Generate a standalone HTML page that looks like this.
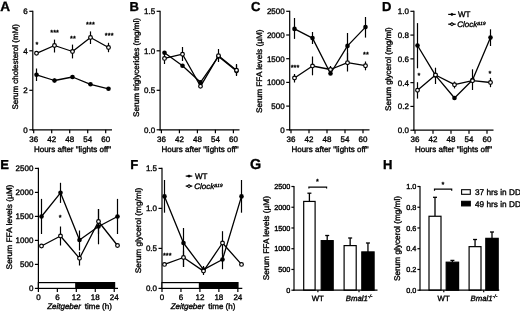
<!DOCTYPE html>
<html lang="en">
<head>
<meta charset="utf-8">
<title>Figure</title>
<style>
html,body{margin:0;padding:0;background:#fff;}
body{width:520px;height:311px;overflow:hidden;}
svg{display:block;filter:grayscale(1);}
svg text{font-family:"Liberation Sans",sans-serif;fill:#000;stroke:#000;stroke-width:0.35px;text-rendering:geometricPrecision;}
</style>
</head>
<body>
<svg width="520" height="311" viewBox="0 0 520 311">
<rect x="0" y="0" width="520" height="311" fill="#fff"/>
<text x="0.3" y="11.2" font-size="13.6" font-weight="bold" >A</text>
<text x="129.6" y="11.1" font-size="13" font-weight="bold" >B</text>
<text x="251" y="10.9" font-size="13" font-weight="bold" >C</text>
<text x="382" y="11.1" font-size="13" font-weight="bold" >D</text>
<text x="0.3" y="168.9" font-size="13" font-weight="bold" >E</text>
<text x="130.3" y="168.9" font-size="13" font-weight="bold" >F</text>
<text x="250" y="169.3" font-size="14.4" font-weight="bold" >G</text>
<text x="383" y="169.1" font-size="13" font-weight="bold" >H</text>
<line x1="32.8" y1="10.7" x2="32.8" y2="130.4" stroke="#000" stroke-width="1.2" />
<line x1="32.2" y1="129.8" x2="112" y2="129.8" stroke="#000" stroke-width="1.2" />
<line x1="29.3" y1="129.8" x2="32.8" y2="129.8" stroke="#000" stroke-width="1.2" />
<text x="27.8" y="132.76" font-size="8" text-anchor="end" >0</text>
<line x1="29.3" y1="90.3" x2="32.8" y2="90.3" stroke="#000" stroke-width="1.2" />
<text x="27.8" y="93.26" font-size="8" text-anchor="end" >2</text>
<line x1="29.3" y1="50.8" x2="32.8" y2="50.8" stroke="#000" stroke-width="1.2" />
<text x="27.8" y="53.76" font-size="8" text-anchor="end" >4</text>
<line x1="29.3" y1="11.3" x2="32.8" y2="11.3" stroke="#000" stroke-width="1.2" />
<text x="27.8" y="14.26" font-size="8" text-anchor="end" >6</text>
<line x1="33.7" y1="129.8" x2="33.7" y2="133.3" stroke="#000" stroke-width="1.2" />
<text x="33.7" y="141.5" font-size="8" text-anchor="middle" >36</text>
<line x1="51.7" y1="129.8" x2="51.7" y2="133.3" stroke="#000" stroke-width="1.2" />
<text x="51.7" y="141.5" font-size="8" text-anchor="middle" >42</text>
<line x1="69.7" y1="129.8" x2="69.7" y2="133.3" stroke="#000" stroke-width="1.2" />
<text x="69.7" y="141.5" font-size="8" text-anchor="middle" >48</text>
<line x1="87.7" y1="129.8" x2="87.7" y2="133.3" stroke="#000" stroke-width="1.2" />
<text x="87.7" y="141.5" font-size="8" text-anchor="middle" >54</text>
<line x1="105.7" y1="129.8" x2="105.7" y2="133.3" stroke="#000" stroke-width="1.2" />
<text x="105.7" y="141.5" font-size="8" text-anchor="middle" >60</text>
<text x="18.1" y="66.8" font-size="8" text-anchor="middle" textLength="85.4" lengthAdjust="spacingAndGlyphs" transform="rotate(-90 18.1 66.8)" >Serum cholesterol (mM)</text>
<text x="72.5" y="152" font-size="8" text-anchor="middle" >Hours after "lights off"</text>
<path d="M36.5 74.8 L54.5 80.5 L72.5 77 L90.5 84.3 L108.5 88.8" fill="none" stroke="#000" stroke-width="1.3" stroke-linejoin="round"/>
<line x1="36.5" y1="68.5" x2="36.5" y2="81" stroke="#000" stroke-width="1.2" />
<line x1="54.5" y1="78.5" x2="54.5" y2="82.5" stroke="#000" stroke-width="1.2" />
<circle cx="36.5" cy="74.8" r="2.3" fill="#000"/>
<circle cx="54.5" cy="80.5" r="2.3" fill="#000"/>
<circle cx="72.5" cy="77" r="2.3" fill="#000"/>
<circle cx="90.5" cy="84.3" r="2.3" fill="#000"/>
<circle cx="108.5" cy="88.8" r="2.3" fill="#000"/>
<path d="M36.5 53.3 L54.5 45.5 L72.5 51.5 L90.5 37.5 L108.5 47.5" fill="none" stroke="#000" stroke-width="1.3" stroke-linejoin="round"/>
<line x1="54.5" y1="39.6" x2="54.5" y2="52.5" stroke="#000" stroke-width="1.2" />
<line x1="72.5" y1="44.6" x2="72.5" y2="58.4" stroke="#000" stroke-width="1.2" />
<line x1="90.5" y1="31.4" x2="90.5" y2="44" stroke="#000" stroke-width="1.2" />
<line x1="108.5" y1="42.8" x2="108.5" y2="52.2" stroke="#000" stroke-width="1.2" />
<circle cx="36.5" cy="53.3" r="1.85" fill="#fff" stroke="#000" stroke-width="1.2"/>
<circle cx="54.5" cy="45.5" r="1.85" fill="#fff" stroke="#000" stroke-width="1.2"/>
<circle cx="72.5" cy="51.5" r="1.85" fill="#fff" stroke="#000" stroke-width="1.2"/>
<circle cx="90.5" cy="37.5" r="1.85" fill="#fff" stroke="#000" stroke-width="1.2"/>
<circle cx="108.5" cy="47.5" r="1.85" fill="#fff" stroke="#000" stroke-width="1.2"/>
<text x="37" y="46.63" font-size="7.3" text-anchor="middle" >*</text>
<text x="54.65" y="35.33" font-size="7.3" text-anchor="middle" letter-spacing="0.1">***</text>
<text x="73.05" y="40.83" font-size="7.3" text-anchor="middle" letter-spacing="0.1">**</text>
<text x="90.45" y="26.63" font-size="7.3" text-anchor="middle" letter-spacing="0.1">***</text>
<text x="109.25" y="37.93" font-size="7.3" text-anchor="middle" letter-spacing="0.1">***</text>
<line x1="160.1" y1="10.7" x2="160.1" y2="130.4" stroke="#000" stroke-width="1.2" />
<line x1="159.5" y1="129.8" x2="239.5" y2="129.8" stroke="#000" stroke-width="1.2" />
<line x1="156.6" y1="129.8" x2="160.1" y2="129.8" stroke="#000" stroke-width="1.2" />
<text x="155.1" y="132.76" font-size="8" text-anchor="end" >0.0</text>
<line x1="156.6" y1="90.3" x2="160.1" y2="90.3" stroke="#000" stroke-width="1.2" />
<text x="155.1" y="93.26" font-size="8" text-anchor="end" >0.5</text>
<line x1="156.6" y1="50.8" x2="160.1" y2="50.8" stroke="#000" stroke-width="1.2" />
<text x="155.1" y="53.76" font-size="8" text-anchor="end" >1.0</text>
<line x1="156.6" y1="11.3" x2="160.1" y2="11.3" stroke="#000" stroke-width="1.2" />
<text x="155.1" y="14.26" font-size="8" text-anchor="end" >1.5</text>
<line x1="161.4" y1="129.8" x2="161.4" y2="133.3" stroke="#000" stroke-width="1.2" />
<text x="161.4" y="141.5" font-size="8" text-anchor="middle" >36</text>
<line x1="179.4" y1="129.8" x2="179.4" y2="133.3" stroke="#000" stroke-width="1.2" />
<text x="179.4" y="141.5" font-size="8" text-anchor="middle" >42</text>
<line x1="197.4" y1="129.8" x2="197.4" y2="133.3" stroke="#000" stroke-width="1.2" />
<text x="197.4" y="141.5" font-size="8" text-anchor="middle" >48</text>
<line x1="215.4" y1="129.8" x2="215.4" y2="133.3" stroke="#000" stroke-width="1.2" />
<text x="215.4" y="141.5" font-size="8" text-anchor="middle" >54</text>
<line x1="233.4" y1="129.8" x2="233.4" y2="133.3" stroke="#000" stroke-width="1.2" />
<text x="233.4" y="141.5" font-size="8" text-anchor="middle" >60</text>
<text x="138.7" y="67.5" font-size="8" text-anchor="middle" textLength="98.9" lengthAdjust="spacingAndGlyphs" transform="rotate(-90 138.7 67.5)" >Serum triglycerides (mg/ml)</text>
<text x="200" y="152" font-size="8" text-anchor="middle" >Hours after "lights off"</text>
<path d="M164.5 52.7 L182.5 65.7 L200.5 82.3 L218.5 56.5 L236.5 71" fill="none" stroke="#000" stroke-width="1.3" stroke-linejoin="round"/>
<line x1="236.5" y1="65" x2="236.5" y2="75" stroke="#000" stroke-width="1.2" />
<circle cx="164.5" cy="52.7" r="2.3" fill="#000"/>
<circle cx="182.5" cy="65.7" r="2.3" fill="#000"/>
<circle cx="200.5" cy="82.3" r="2.3" fill="#000"/>
<circle cx="218.5" cy="56.5" r="2.3" fill="#000"/>
<circle cx="236.5" cy="71" r="2.3" fill="#000"/>
<path d="M164.5 58.4 L182.5 54.2 L200.5 86.3 L218.5 55.7 L236.5 70.3" fill="none" stroke="#000" stroke-width="1.3" stroke-linejoin="round"/>
<line x1="164.5" y1="53" x2="164.5" y2="64" stroke="#000" stroke-width="1.2" />
<line x1="182.5" y1="47" x2="182.5" y2="61" stroke="#000" stroke-width="1.2" />
<line x1="218.5" y1="49" x2="218.5" y2="62" stroke="#000" stroke-width="1.2" />
<line x1="236.5" y1="64" x2="236.5" y2="76" stroke="#000" stroke-width="1.2" />
<circle cx="164.5" cy="58.4" r="1.85" fill="#fff" stroke="#000" stroke-width="1.2"/>
<circle cx="182.5" cy="54.2" r="1.85" fill="#fff" stroke="#000" stroke-width="1.2"/>
<circle cx="200.5" cy="86.3" r="1.85" fill="#fff" stroke="#000" stroke-width="1.2"/>
<circle cx="218.5" cy="55.7" r="1.85" fill="#fff" stroke="#000" stroke-width="1.2"/>
<circle cx="236.5" cy="70.3" r="1.85" fill="#fff" stroke="#000" stroke-width="1.2"/>
<line x1="289.7" y1="10.7" x2="289.7" y2="130.4" stroke="#000" stroke-width="1.2" />
<line x1="289.1" y1="129.8" x2="369.5" y2="129.8" stroke="#000" stroke-width="1.2" />
<line x1="286.2" y1="129.8" x2="289.7" y2="129.8" stroke="#000" stroke-width="1.2" />
<text x="284.7" y="132.76" font-size="8" text-anchor="end" >0</text>
<line x1="286.2" y1="106.1" x2="289.7" y2="106.1" stroke="#000" stroke-width="1.2" />
<text x="284.7" y="109.06" font-size="8" text-anchor="end" >500</text>
<line x1="286.2" y1="82.4" x2="289.7" y2="82.4" stroke="#000" stroke-width="1.2" />
<text x="284.7" y="85.36" font-size="8" text-anchor="end" >1000</text>
<line x1="286.2" y1="58.7" x2="289.7" y2="58.7" stroke="#000" stroke-width="1.2" />
<text x="284.7" y="61.66" font-size="8" text-anchor="end" >1500</text>
<line x1="286.2" y1="35" x2="289.7" y2="35" stroke="#000" stroke-width="1.2" />
<text x="284.7" y="37.96" font-size="8" text-anchor="end" >2000</text>
<line x1="286.2" y1="11.3" x2="289.7" y2="11.3" stroke="#000" stroke-width="1.2" />
<text x="284.7" y="14.26" font-size="8" text-anchor="end" >2500</text>
<line x1="291" y1="129.8" x2="291" y2="133.3" stroke="#000" stroke-width="1.2" />
<text x="291" y="141.5" font-size="8" text-anchor="middle" >36</text>
<line x1="309" y1="129.8" x2="309" y2="133.3" stroke="#000" stroke-width="1.2" />
<text x="309" y="141.5" font-size="8" text-anchor="middle" >42</text>
<line x1="327" y1="129.8" x2="327" y2="133.3" stroke="#000" stroke-width="1.2" />
<text x="327" y="141.5" font-size="8" text-anchor="middle" >48</text>
<line x1="345" y1="129.8" x2="345" y2="133.3" stroke="#000" stroke-width="1.2" />
<text x="345" y="141.5" font-size="8" text-anchor="middle" >54</text>
<line x1="363" y1="129.8" x2="363" y2="133.3" stroke="#000" stroke-width="1.2" />
<text x="363" y="141.5" font-size="8" text-anchor="middle" >60</text>
<text x="261.8" y="71.3" font-size="8" text-anchor="middle" textLength="83.5" lengthAdjust="spacingAndGlyphs" transform="rotate(-90 261.8 71.3)" >Serum FFA levels (µM)</text>
<text x="330" y="152" font-size="8" text-anchor="middle" >Hours after "lights off"</text>
<path d="M294.5 28.9 L312.5 38.1 L330.5 73.5 L347.5 45.9 L365.5 27.1" fill="none" stroke="#000" stroke-width="1.3" stroke-linejoin="round"/>
<line x1="294.5" y1="18" x2="294.5" y2="38.9" stroke="#000" stroke-width="1.2" />
<line x1="312.5" y1="32" x2="312.5" y2="44" stroke="#000" stroke-width="1.2" />
<line x1="347.5" y1="33" x2="347.5" y2="60" stroke="#000" stroke-width="1.2" />
<line x1="365.5" y1="17" x2="365.5" y2="37.6" stroke="#000" stroke-width="1.2" />
<circle cx="294.5" cy="28.9" r="2.3" fill="#000"/>
<circle cx="312.5" cy="38.1" r="2.3" fill="#000"/>
<circle cx="330.5" cy="73.5" r="2.3" fill="#000"/>
<circle cx="347.5" cy="45.9" r="2.3" fill="#000"/>
<circle cx="365.5" cy="27.1" r="2.3" fill="#000"/>
<path d="M294.5 78 L312.5 66 L330.5 69.5 L347.5 62.7 L365.5 65.7" fill="none" stroke="#000" stroke-width="1.3" stroke-linejoin="round"/>
<line x1="294.5" y1="74" x2="294.5" y2="82.5" stroke="#000" stroke-width="1.2" />
<line x1="312.5" y1="56.5" x2="312.5" y2="75.3" stroke="#000" stroke-width="1.2" />
<line x1="330.5" y1="66" x2="330.5" y2="73" stroke="#000" stroke-width="1.2" />
<line x1="347.5" y1="52.7" x2="347.5" y2="71.5" stroke="#000" stroke-width="1.2" />
<line x1="365.5" y1="61.5" x2="365.5" y2="70.3" stroke="#000" stroke-width="1.2" />
<circle cx="294.5" cy="78" r="1.85" fill="#fff" stroke="#000" stroke-width="1.2"/>
<circle cx="312.5" cy="66" r="1.85" fill="#fff" stroke="#000" stroke-width="1.2"/>
<circle cx="330.5" cy="69.5" r="1.85" fill="#fff" stroke="#000" stroke-width="1.2"/>
<circle cx="347.5" cy="62.7" r="1.85" fill="#fff" stroke="#000" stroke-width="1.2"/>
<circle cx="365.5" cy="65.7" r="1.85" fill="#fff" stroke="#000" stroke-width="1.2"/>
<text x="295.05" y="69.93" font-size="7.3" text-anchor="middle" letter-spacing="0.1">***</text>
<text x="366.05" y="56.63" font-size="7.3" text-anchor="middle" letter-spacing="0.1">**</text>
<line x1="413.9" y1="10.7" x2="413.9" y2="130.8" stroke="#000" stroke-width="1.2" />
<line x1="413.3" y1="130.2" x2="493.5" y2="130.2" stroke="#000" stroke-width="1.2" />
<line x1="410.4" y1="130.2" x2="413.9" y2="130.2" stroke="#000" stroke-width="1.2" />
<text x="408.9" y="133.16" font-size="8" text-anchor="end" >0.0</text>
<line x1="410.4" y1="106.42" x2="413.9" y2="106.42" stroke="#000" stroke-width="1.2" />
<text x="408.9" y="109.38" font-size="8" text-anchor="end" >0.2</text>
<line x1="410.4" y1="82.64" x2="413.9" y2="82.64" stroke="#000" stroke-width="1.2" />
<text x="408.9" y="85.6" font-size="8" text-anchor="end" >0.4</text>
<line x1="410.4" y1="58.86" x2="413.9" y2="58.86" stroke="#000" stroke-width="1.2" />
<text x="408.9" y="61.82" font-size="8" text-anchor="end" >0.6</text>
<line x1="410.4" y1="35.08" x2="413.9" y2="35.08" stroke="#000" stroke-width="1.2" />
<text x="408.9" y="38.04" font-size="8" text-anchor="end" >0.8</text>
<line x1="410.4" y1="11.3" x2="413.9" y2="11.3" stroke="#000" stroke-width="1.2" />
<text x="408.9" y="14.26" font-size="8" text-anchor="end" >1.0</text>
<line x1="415" y1="130.2" x2="415" y2="133.7" stroke="#000" stroke-width="1.2" />
<text x="415" y="141.9" font-size="8" text-anchor="middle" >36</text>
<line x1="433" y1="130.2" x2="433" y2="133.7" stroke="#000" stroke-width="1.2" />
<text x="433" y="141.9" font-size="8" text-anchor="middle" >42</text>
<line x1="451" y1="130.2" x2="451" y2="133.7" stroke="#000" stroke-width="1.2" />
<text x="451" y="141.9" font-size="8" text-anchor="middle" >48</text>
<line x1="469" y1="130.2" x2="469" y2="133.7" stroke="#000" stroke-width="1.2" />
<text x="469" y="141.9" font-size="8" text-anchor="middle" >54</text>
<line x1="487" y1="130.2" x2="487" y2="133.7" stroke="#000" stroke-width="1.2" />
<text x="487" y="141.9" font-size="8" text-anchor="middle" >60</text>
<text x="391.2" y="69.1" font-size="8" text-anchor="middle" textLength="83.6" lengthAdjust="spacingAndGlyphs" transform="rotate(-90 391.2 69.1)" >Serum glycerol (mg/ml)</text>
<text x="453.5" y="152" font-size="8" text-anchor="middle" >Hours after "lights off"</text>
<path d="M417.5 45.5 L435.5 75.4 L454.5 98 L472.5 80 L490.5 37.6" fill="none" stroke="#000" stroke-width="1.3" stroke-linejoin="round"/>
<line x1="417.5" y1="23.1" x2="417.5" y2="68.3" stroke="#000" stroke-width="1.2" />
<line x1="490.5" y1="29.3" x2="490.5" y2="46" stroke="#000" stroke-width="1.2" />
<circle cx="417.5" cy="45.5" r="2.3" fill="#000"/>
<circle cx="435.5" cy="75.4" r="2.3" fill="#000"/>
<circle cx="454.5" cy="98" r="2.3" fill="#000"/>
<circle cx="472.5" cy="80" r="2.3" fill="#000"/>
<circle cx="490.5" cy="37.6" r="2.3" fill="#000"/>
<path d="M417.5 90.2 L435.5 75 L454.5 84.7 L472.5 80.7 L490.5 82.5" fill="none" stroke="#000" stroke-width="1.3" stroke-linejoin="round"/>
<line x1="417.5" y1="82.2" x2="417.5" y2="98.6" stroke="#000" stroke-width="1.2" />
<line x1="435.5" y1="67.7" x2="435.5" y2="84" stroke="#000" stroke-width="1.2" />
<line x1="454.5" y1="81.6" x2="454.5" y2="88.4" stroke="#000" stroke-width="1.2" />
<line x1="472.5" y1="69.3" x2="472.5" y2="90" stroke="#000" stroke-width="1.2" />
<line x1="490.5" y1="77.9" x2="490.5" y2="87.2" stroke="#000" stroke-width="1.2" />
<circle cx="417.5" cy="90.2" r="1.85" fill="#fff" stroke="#000" stroke-width="1.2"/>
<circle cx="435.5" cy="75" r="1.85" fill="#fff" stroke="#000" stroke-width="1.2"/>
<circle cx="454.5" cy="84.7" r="1.85" fill="#fff" stroke="#000" stroke-width="1.2"/>
<circle cx="472.5" cy="80.7" r="1.85" fill="#fff" stroke="#000" stroke-width="1.2"/>
<circle cx="490.5" cy="82.5" r="1.85" fill="#fff" stroke="#000" stroke-width="1.2"/>
<text x="419" y="78.23" font-size="7.3" text-anchor="middle" >*</text>
<text x="490" y="75.73" font-size="7.3" text-anchor="middle" >*</text>
<line x1="448.2" y1="14.4" x2="455.7" y2="14.4" stroke="#000" stroke-width="1.2" />
<path d="M449.85 14.4L451.95 12.7L454.05 14.4L451.95 16.1Z" fill="#000"/>
<text x="458" y="17.28" font-size="8" >WT</text>
<line x1="448.2" y1="24.2" x2="455.7" y2="24.2" stroke="#000" stroke-width="1.2" />
<path d="M450.05 24.2L451.95 22.7L453.85 24.2L451.95 25.7Z" fill="#fff" stroke="#000" stroke-width="1.05"/>
<text x="457.2" y="27.08" font-size="8" font-style="italic">Clock<tspan font-size="4.64" dy="-2.2">Δ19</tspan></text>
<line x1="38.4" y1="167.8" x2="38.4" y2="289" stroke="#000" stroke-width="1.2" />
<line x1="37.8" y1="288.4" x2="118" y2="288.4" stroke="#000" stroke-width="1.2" />
<line x1="34.9" y1="288.4" x2="38.4" y2="288.4" stroke="#000" stroke-width="1.2" />
<text x="33.4" y="291.36" font-size="8" text-anchor="end" >0</text>
<line x1="34.9" y1="264.4" x2="38.4" y2="264.4" stroke="#000" stroke-width="1.2" />
<text x="33.4" y="267.36" font-size="8" text-anchor="end" >500</text>
<line x1="34.9" y1="240.4" x2="38.4" y2="240.4" stroke="#000" stroke-width="1.2" />
<text x="33.4" y="243.36" font-size="8" text-anchor="end" >1000</text>
<line x1="34.9" y1="216.4" x2="38.4" y2="216.4" stroke="#000" stroke-width="1.2" />
<text x="33.4" y="219.36" font-size="8" text-anchor="end" >1500</text>
<line x1="34.9" y1="192.4" x2="38.4" y2="192.4" stroke="#000" stroke-width="1.2" />
<text x="33.4" y="195.36" font-size="8" text-anchor="end" >2000</text>
<line x1="34.9" y1="168.4" x2="38.4" y2="168.4" stroke="#000" stroke-width="1.2" />
<text x="33.4" y="171.36" font-size="8" text-anchor="end" >2500</text>
<line x1="38.4" y1="288.4" x2="38.4" y2="291.9" stroke="#000" stroke-width="1.2" />
<text x="38.4" y="300.1" font-size="8" text-anchor="middle" >0</text>
<line x1="57.36" y1="288.4" x2="57.36" y2="291.9" stroke="#000" stroke-width="1.2" />
<text x="57.36" y="300.1" font-size="8" text-anchor="middle" >6</text>
<line x1="76.32" y1="288.4" x2="76.32" y2="291.9" stroke="#000" stroke-width="1.2" />
<text x="76.32" y="300.1" font-size="8" text-anchor="middle" >12</text>
<line x1="95.28" y1="288.4" x2="95.28" y2="291.9" stroke="#000" stroke-width="1.2" />
<text x="95.28" y="300.1" font-size="8" text-anchor="middle" >18</text>
<line x1="114.24" y1="288.4" x2="114.24" y2="291.9" stroke="#000" stroke-width="1.2" />
<text x="114.24" y="300.1" font-size="8" text-anchor="middle" >24</text>
<text x="12.4" y="227" font-size="8" text-anchor="middle" textLength="84.8" lengthAdjust="spacingAndGlyphs" transform="rotate(-90 12.4 227)" >Serum FFA levels (µM)</text>
<text x="79.5" y="309.3" font-size="8" text-anchor="middle" ><tspan font-style="italic">Zeitgeber</tspan><tspan dx="1.6"> time (h)</tspan></text>
<path d="M41.5 216.5 L60.5 192.8 L79.5 240 L98.5 226.5 L117.5 216.5" fill="none" stroke="#000" stroke-width="1.3" stroke-linejoin="round"/>
<line x1="41.5" y1="198.9" x2="41.5" y2="234" stroke="#000" stroke-width="1.2" />
<line x1="60.5" y1="182.8" x2="60.5" y2="202.9" stroke="#000" stroke-width="1.2" />
<line x1="79.5" y1="230.5" x2="79.5" y2="250.5" stroke="#000" stroke-width="1.2" />
<line x1="98.5" y1="209" x2="98.5" y2="244.3" stroke="#000" stroke-width="1.2" />
<line x1="117.5" y1="198.9" x2="117.5" y2="234" stroke="#000" stroke-width="1.2" />
<circle cx="41.5" cy="216.5" r="2.3" fill="#000"/>
<circle cx="60.5" cy="192.8" r="2.3" fill="#000"/>
<circle cx="79.5" cy="240" r="2.3" fill="#000"/>
<circle cx="98.5" cy="226.5" r="2.3" fill="#000"/>
<circle cx="117.5" cy="216.5" r="2.3" fill="#000"/>
<path d="M41.5 246 L60.5 236 L79.5 258.3 L98.5 221.5 L117.5 245.5" fill="none" stroke="#000" stroke-width="1.3" stroke-linejoin="round"/>
<line x1="60.5" y1="226.5" x2="60.5" y2="245.5" stroke="#000" stroke-width="1.2" />
<line x1="79.5" y1="252" x2="79.5" y2="265.5" stroke="#000" stroke-width="1.2" />
<line x1="98.5" y1="209" x2="98.5" y2="234" stroke="#000" stroke-width="1.2" />
<circle cx="41.5" cy="246" r="1.85" fill="#fff" stroke="#000" stroke-width="1.2"/>
<circle cx="60.5" cy="236" r="1.85" fill="#fff" stroke="#000" stroke-width="1.2"/>
<circle cx="79.5" cy="258.3" r="1.85" fill="#fff" stroke="#000" stroke-width="1.2"/>
<circle cx="98.5" cy="221.5" r="1.85" fill="#fff" stroke="#000" stroke-width="1.2"/>
<circle cx="117.5" cy="245.5" r="1.85" fill="#fff" stroke="#000" stroke-width="1.2"/>
<rect x="38.4" y="282.6" width="37.6" height="5.8" fill="#fff" stroke="#000" stroke-width="1.2"/>
<rect x="76" y="282.6" width="38.6" height="5.8" fill="#000" stroke="#000" stroke-width="1.2"/>
<text x="60.2" y="220.13" font-size="7.3" text-anchor="middle" >*</text>
<line x1="162" y1="167.8" x2="162" y2="289" stroke="#000" stroke-width="1.2" />
<line x1="161.4" y1="288.4" x2="242.3" y2="288.4" stroke="#000" stroke-width="1.2" />
<line x1="158.5" y1="288.4" x2="162" y2="288.4" stroke="#000" stroke-width="1.2" />
<text x="157" y="291.36" font-size="8" text-anchor="end" >0.0</text>
<line x1="158.5" y1="248.4" x2="162" y2="248.4" stroke="#000" stroke-width="1.2" />
<text x="157" y="251.36" font-size="8" text-anchor="end" >0.5</text>
<line x1="158.5" y1="208.4" x2="162" y2="208.4" stroke="#000" stroke-width="1.2" />
<text x="157" y="211.36" font-size="8" text-anchor="end" >1.0</text>
<line x1="158.5" y1="168.4" x2="162" y2="168.4" stroke="#000" stroke-width="1.2" />
<text x="157" y="171.36" font-size="8" text-anchor="end" >1.5</text>
<line x1="162" y1="288.4" x2="162" y2="291.9" stroke="#000" stroke-width="1.2" />
<text x="162" y="300.1" font-size="8" text-anchor="middle" >0</text>
<line x1="180.96" y1="288.4" x2="180.96" y2="291.9" stroke="#000" stroke-width="1.2" />
<text x="180.96" y="300.1" font-size="8" text-anchor="middle" >6</text>
<line x1="199.92" y1="288.4" x2="199.92" y2="291.9" stroke="#000" stroke-width="1.2" />
<text x="199.92" y="300.1" font-size="8" text-anchor="middle" >12</text>
<line x1="218.88" y1="288.4" x2="218.88" y2="291.9" stroke="#000" stroke-width="1.2" />
<text x="218.88" y="300.1" font-size="8" text-anchor="middle" >18</text>
<line x1="237.84" y1="288.4" x2="237.84" y2="291.9" stroke="#000" stroke-width="1.2" />
<text x="237.84" y="300.1" font-size="8" text-anchor="middle" >24</text>
<text x="141.2" y="230.4" font-size="8" text-anchor="middle" textLength="85.6" lengthAdjust="spacingAndGlyphs" transform="rotate(-90 141.2 230.4)" >Serum glycerol (mg/ml)</text>
<text x="203" y="309.3" font-size="8" text-anchor="middle" ><tspan font-style="italic">Zeitgeber</tspan><tspan dx="1.6"> time (h)</tspan></text>
<path d="M164.5 196.4 L183.5 243 L203.5 269.6 L222.5 259.5 L241.5 196.4" fill="none" stroke="#000" stroke-width="1.3" stroke-linejoin="round"/>
<line x1="164.5" y1="180" x2="164.5" y2="212.7" stroke="#000" stroke-width="1.2" />
<line x1="183.5" y1="228" x2="183.5" y2="267" stroke="#000" stroke-width="1.2" />
<line x1="203.5" y1="266" x2="203.5" y2="273" stroke="#000" stroke-width="1.2" />
<line x1="222.5" y1="250" x2="222.5" y2="269.2" stroke="#000" stroke-width="1.2" />
<line x1="241.5" y1="180" x2="241.5" y2="212.7" stroke="#000" stroke-width="1.2" />
<circle cx="164.5" cy="196.4" r="2.3" fill="#000"/>
<circle cx="183.5" cy="243" r="2.3" fill="#000"/>
<circle cx="203.5" cy="269.6" r="2.3" fill="#000"/>
<circle cx="222.5" cy="259.5" r="2.3" fill="#000"/>
<circle cx="241.5" cy="196.4" r="2.3" fill="#000"/>
<path d="M164.5 264.4 L183.5 257.5 L203.5 271.1 L222.5 243 L241.5 264.4" fill="none" stroke="#000" stroke-width="1.3" stroke-linejoin="round"/>
<line x1="183.5" y1="250.6" x2="183.5" y2="266.9" stroke="#000" stroke-width="1.2" />
<line x1="203.5" y1="268" x2="203.5" y2="275" stroke="#000" stroke-width="1.2" />
<line x1="222.5" y1="231.2" x2="222.5" y2="254" stroke="#000" stroke-width="1.2" />
<circle cx="164.5" cy="264.4" r="1.85" fill="#fff" stroke="#000" stroke-width="1.2"/>
<circle cx="183.5" cy="257.5" r="1.85" fill="#fff" stroke="#000" stroke-width="1.2"/>
<circle cx="203.5" cy="271.1" r="1.85" fill="#fff" stroke="#000" stroke-width="1.2"/>
<circle cx="222.5" cy="243" r="1.85" fill="#fff" stroke="#000" stroke-width="1.2"/>
<circle cx="241.5" cy="264.4" r="1.85" fill="#fff" stroke="#000" stroke-width="1.2"/>
<rect x="162" y="282.6" width="37.5" height="5.8" fill="#fff" stroke="#000" stroke-width="1.2"/>
<rect x="199.5" y="282.6" width="38.5" height="5.8" fill="#000" stroke="#000" stroke-width="1.2"/>
<text x="167.35" y="257.63" font-size="7.3" text-anchor="middle" letter-spacing="0.1">***</text>
<line x1="185.7" y1="176.1" x2="192.3" y2="176.1" stroke="#000" stroke-width="1.2" />
<path d="M186.9 176.1L189 174.4L191.1 176.1L189 177.8Z" fill="#000"/>
<text x="195" y="178.98" font-size="8" >WT</text>
<line x1="185.7" y1="186.1" x2="192.3" y2="186.1" stroke="#000" stroke-width="1.2" />
<path d="M187.1 186.1L189 184.6L190.9 186.1L189 187.6Z" fill="#fff" stroke="#000" stroke-width="1.05"/>
<text x="194.2" y="188.98" font-size="8" font-style="italic">Clock<tspan font-size="4.64" dy="-2.2">Δ19</tspan></text>
<line x1="309.4" y1="193.2" x2="309.4" y2="201.43" stroke="#000" stroke-width="1.3" />
<line x1="307.4" y1="193.2" x2="311.4" y2="193.2" stroke="#000" stroke-width="1.3" />
<rect x="303.7" y="201.43" width="11.4" height="88.77" fill="#fff" stroke="#000" stroke-width="1.2"/>
<line x1="327.2" y1="235.5" x2="327.2" y2="240.63" stroke="#000" stroke-width="1.3" />
<line x1="325.2" y1="235.5" x2="329.2" y2="235.5" stroke="#000" stroke-width="1.3" />
<rect x="321.2" y="240.63" width="12" height="49.57" fill="#000" stroke="#000" stroke-width="1.2"/>
<line x1="350.15" y1="238" x2="350.15" y2="245.61" stroke="#000" stroke-width="1.3" />
<line x1="348.15" y1="238" x2="352.15" y2="238" stroke="#000" stroke-width="1.3" />
<rect x="344.1" y="245.61" width="12.1" height="44.59" fill="#fff" stroke="#000" stroke-width="1.2"/>
<line x1="367.95" y1="243" x2="367.95" y2="251.91" stroke="#000" stroke-width="1.3" />
<line x1="365.95" y1="243" x2="369.95" y2="243" stroke="#000" stroke-width="1.3" />
<rect x="361.8" y="251.91" width="12.3" height="38.29" fill="#000" stroke="#000" stroke-width="1.2"/>
<line x1="294" y1="185.9" x2="294" y2="290.8" stroke="#000" stroke-width="1.2" />
<line x1="293.4" y1="290.2" x2="377.5" y2="290.2" stroke="#000" stroke-width="1.2" />
<line x1="291.4" y1="290.2" x2="294" y2="290.2" stroke="#000" stroke-width="1.2" />
<text x="290.4" y="292.9" font-size="7.3" text-anchor="end" >0</text>
<line x1="291.4" y1="269.46" x2="294" y2="269.46" stroke="#000" stroke-width="1.2" />
<text x="290.4" y="272.16" font-size="7.3" text-anchor="end" >500</text>
<line x1="291.4" y1="248.72" x2="294" y2="248.72" stroke="#000" stroke-width="1.2" />
<text x="290.4" y="251.42" font-size="7.3" text-anchor="end" >1000</text>
<line x1="291.4" y1="227.98" x2="294" y2="227.98" stroke="#000" stroke-width="1.2" />
<text x="290.4" y="230.68" font-size="7.3" text-anchor="end" >1500</text>
<line x1="291.4" y1="207.24" x2="294" y2="207.24" stroke="#000" stroke-width="1.2" />
<text x="290.4" y="209.94" font-size="7.3" text-anchor="end" >2000</text>
<line x1="291.4" y1="186.5" x2="294" y2="186.5" stroke="#000" stroke-width="1.2" />
<text x="290.4" y="189.2" font-size="7.3" text-anchor="end" >2500</text>
<line x1="317.9" y1="290.2" x2="317.9" y2="292.2" stroke="#000" stroke-width="1.2" />
<line x1="359" y1="290.2" x2="359" y2="292.2" stroke="#000" stroke-width="1.2" />
<text x="268.7" y="238.2" font-size="8.2" text-anchor="middle" textLength="84.3" lengthAdjust="spacingAndGlyphs" transform="rotate(-90 268.7 238.2)" >Serum FFA levels (µM)</text>
<text x="317.7" y="300.6" font-size="7.8" text-anchor="middle" >WT</text>
<text x="345.7" y="300.6" font-size="7.8" ><tspan font-style="italic">Bmal1</tspan><tspan font-size="5" dy="-2.6" font-style="italic">-/-</tspan></text>
<path d="M308.9 188.6V187.2H326.6V188.6" fill="none" stroke="#000" stroke-width="1.2"/>
<text x="317.3" y="184.43" font-size="7.3" text-anchor="middle" >*</text>
<line x1="435" y1="197.3" x2="435" y2="216.26" stroke="#000" stroke-width="1.3" />
<line x1="433" y1="197.3" x2="437" y2="197.3" stroke="#000" stroke-width="1.3" />
<rect x="429" y="216.26" width="12" height="73.94" fill="#fff" stroke="#000" stroke-width="1.2"/>
<line x1="452.4" y1="260.4" x2="452.4" y2="262.2" stroke="#000" stroke-width="1.3" />
<line x1="450.4" y1="260.4" x2="454.4" y2="260.4" stroke="#000" stroke-width="1.3" />
<rect x="446.2" y="262.2" width="12.4" height="28" fill="#000" stroke="#000" stroke-width="1.2"/>
<line x1="475.05" y1="239.5" x2="475.05" y2="246.65" stroke="#000" stroke-width="1.3" />
<line x1="473.05" y1="239.5" x2="477.05" y2="239.5" stroke="#000" stroke-width="1.3" />
<rect x="469.1" y="246.65" width="11.9" height="43.55" fill="#fff" stroke="#000" stroke-width="1.2"/>
<line x1="492" y1="232" x2="492" y2="238.35" stroke="#000" stroke-width="1.3" />
<line x1="490" y1="232" x2="494" y2="232" stroke="#000" stroke-width="1.3" />
<rect x="485.8" y="238.35" width="12.4" height="51.85" fill="#000" stroke="#000" stroke-width="1.2"/>
<line x1="420" y1="185.9" x2="420" y2="290.8" stroke="#000" stroke-width="1.2" />
<line x1="419.4" y1="290.2" x2="499.3" y2="290.2" stroke="#000" stroke-width="1.2" />
<line x1="417.4" y1="290.2" x2="420" y2="290.2" stroke="#000" stroke-width="1.2" />
<text x="416.4" y="292.9" font-size="7.3" text-anchor="end" >0.0</text>
<line x1="417.4" y1="269.46" x2="420" y2="269.46" stroke="#000" stroke-width="1.2" />
<text x="416.4" y="272.16" font-size="7.3" text-anchor="end" >0.2</text>
<line x1="417.4" y1="248.72" x2="420" y2="248.72" stroke="#000" stroke-width="1.2" />
<text x="416.4" y="251.42" font-size="7.3" text-anchor="end" >0.4</text>
<line x1="417.4" y1="227.98" x2="420" y2="227.98" stroke="#000" stroke-width="1.2" />
<text x="416.4" y="230.68" font-size="7.3" text-anchor="end" >0.6</text>
<line x1="417.4" y1="207.24" x2="420" y2="207.24" stroke="#000" stroke-width="1.2" />
<text x="416.4" y="209.94" font-size="7.3" text-anchor="end" >0.8</text>
<line x1="417.4" y1="186.5" x2="420" y2="186.5" stroke="#000" stroke-width="1.2" />
<text x="416.4" y="189.2" font-size="7.3" text-anchor="end" >1.0</text>
<line x1="443.8" y1="290.2" x2="443.8" y2="292.2" stroke="#000" stroke-width="1.2" />
<line x1="483.7" y1="290.2" x2="483.7" y2="292.2" stroke="#000" stroke-width="1.2" />
<text x="400.2" y="238.5" font-size="8.2" text-anchor="middle" textLength="85.1" lengthAdjust="spacingAndGlyphs" transform="rotate(-90 400.2 238.5)" >Serum glycerol (mg/ml)</text>
<text x="443.6" y="300.6" font-size="7.8" text-anchor="middle" >WT</text>
<text x="470.5" y="300.6" font-size="7.8" ><tspan font-style="italic">Bmal1</tspan><tspan font-size="5" dy="-2.6" font-style="italic">-/-</tspan></text>
<path d="M434.5 190.8V189.2H451.7V190.8" fill="none" stroke="#000" stroke-width="1.2"/>
<text x="442.8" y="186.63" font-size="7.3" text-anchor="middle" >*</text>
<rect x="461.6" y="189.7" width="8.7" height="4.6" fill="#fff" stroke="#000" stroke-width="1.1"/>
<text x="475" y="194.5" font-size="8.25" >37 hrs in DD</text>
<rect x="461.6" y="201.3" width="8.7" height="4.6" fill="#000" stroke="#000" stroke-width="1.1"/>
<text x="475" y="206.8" font-size="8.25" >49 hrs in DD</text>
</svg>
</body>
</html>
